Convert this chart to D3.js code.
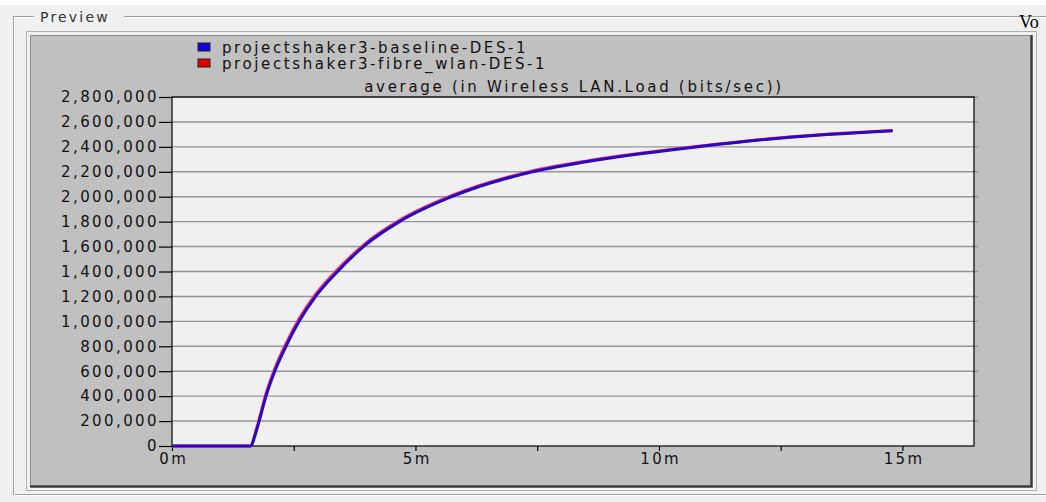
<!DOCTYPE html>
<html>
<head>
<meta charset="utf-8">
<script src="https://cdn.jsdelivr.net/npm/d3@7"></script>
<style>
  body { margin: 0; background: #f0f0f0; }
  svg { display: block; }
</style>
</head>
<body>
<svg id="chart" width="1046" height="502"></svg>
<script>
// series names for legend
const seriesNames = ["projectshaker3-baseline-DES-1", "projectshaker3-fibre_wlan-DES-1"];
const seriesColors = ["#1400e0", "#e00000"];
const chartTitle = "average (in Wireless LAN.Load (bits/sec))";

// time in minutes, load in bits/sec
const timeMin = [0, 1.62, 1.70, 1.79, 1.93, 2.11, 2.34, 2.61, 2.95, 3.40, 3.93, 4.67, 5.74, 7.4, 8.5, 10.8, 12.48, 14.8];
const baseline = [0, 0, 80000, 200000, 400000, 600000, 800000, 1000000, 1200000, 1400000, 1600000, 1800000, 2000000, 2200000, 2280000, 2400000, 2470000, 2529000];
const fibreWlan = [0, 0, 90000, 215000, 420000, 620000, 820000, 1020000, 1218000, 1415000, 1612000, 1810000, 2008000, 2206000, 2285000, 2404000, 2473000, 2531000];

const yTicks = d3.range(0, 2800001, 200000);
const xTicks = d3.range(0, 15.01, 2.5);
const xLabels = [0, 5, 10, 15];

const FONT = "'DejaVu Sans', Verdana, sans-serif";
const svg = d3.select("#chart");
const W = 1046, H = 502;

// window background
svg.append("rect").attr("width", W).attr("height", H).attr("fill", "#f0f0f0");
svg.append("rect").attr("width", W).attr("height", 5).attr("fill", "#ffffff");

// group box (etched)
const gb = svg.append("g");
gb.append("rect").attr("x", 13.5).attr("y", 16.5).attr("width", 1040).attr("height", 478)
  .attr("fill", "none").attr("stroke", "#a0a0a0");
gb.append("rect").attr("x", 14.5).attr("y", 17.5).attr("width", 1040).attr("height", 478)
  .attr("fill", "none").attr("stroke", "#ffffff");
gb.append("rect").attr("x", 34).attr("y", 8).attr("width", 90).attr("height", 18).attr("fill", "#f0f0f0");
gb.append("text").attr("x", 40).attr("y", 22).style("font-family", FONT).attr("font-size", 14).attr("fill", "#333")
  .attr("letter-spacing", 2.2).text("Preview");
svg.append("text").attr("x", 1019).attr("y", 28)
  .style("font-family", "'Liberation Serif', 'DejaVu Serif', serif").attr("font-size", 18)
  .attr("fill", "#000").text("Vo");

// inner panel
svg.append("rect").attr("x", 26.5).attr("y", 31.5).attr("width", 1010).attr("height", 459)
  .attr("fill", "none").attr("stroke", "#b0b0b0");
svg.append("rect").attr("x", 30).attr("y", 35).attr("width", 1001).attr("height", 452).attr("fill", "#c0c0c0");
svg.append("path").attr("d", "M30.5,486 V35.5 H1030").attr("fill", "none").attr("stroke", "#8a8a8a");
svg.append("path").attr("d", "M30,486.5 H1031.5 V35").attr("fill", "none").attr("stroke", "#3c3c3c").attr("stroke-width", 2.5);

// plot area
const pL = 172, pR = 974, pT = 97, pB = 446;
const x = d3.scaleLinear().domain([0, 16.47]).range([pL, pR]);
const y = d3.scaleLinear().domain([0, 2800000]).range([pB, pT]);

svg.append("rect").attr("x", pL).attr("y", pT).attr("width", pR - pL).attr("height", pB - pT)
  .attr("fill", "#f0f0f0");

// gridlines
svg.append("g").selectAll("line").data(yTicks.slice(1)).join("line")
  .attr("x1", pL).attr("x2", pR + 4)
  .attr("y1", d => y(d)).attr("y2", d => y(d))
  .attr("stroke", "#959595").attr("stroke-width", 1.4);

svg.append("rect").attr("x", pL).attr("y", pT).attr("width", pR - pL).attr("height", pB - pT)
  .attr("fill", "none").attr("stroke", "#000").attr("stroke-width", 1.2);

// y axis
const yAxis = svg.append("g").attr("transform", `translate(${pL},0)`)
  .call(d3.axisLeft(y).tickValues(yTicks).tickFormat(d3.format(",")).tickSize(13).tickPadding(0));
yAxis.select(".domain").remove();
yAxis.selectAll(".tick line").attr("stroke", "#000").attr("stroke-width", 1.2);
yAxis.selectAll(".tick text").attr("font-size", 15).attr("fill", "#111")
  .attr("font-family", FONT).attr("letter-spacing", 2.4);

// x axis
const xAxis = svg.append("g").attr("transform", `translate(0,${pB})`)
  .call(d3.axisBottom(x).tickValues(xTicks).tickFormat(d => xLabels.includes(d) ? d + "m" : "").tickSize(5).tickPadding(2));
xAxis.select(".domain").remove();
xAxis.selectAll(".tick line").attr("stroke", "#000").attr("stroke-width", 1.2);
xAxis.selectAll(".tick text").attr("font-size", 15).attr("fill", "#111")
  .attr("font-family", FONT).attr("letter-spacing", 2.4)
  .attr("dx", 1.2);

// title
svg.append("text").attr("x", (pL + pR) / 2 + 1).attr("y", 92).attr("text-anchor", "middle")
  .style("font-family", FONT).attr("font-size", 15).attr("fill", "#111").attr("letter-spacing", 2.7).text(chartTitle);

// legend
const lg = svg.append("g").selectAll("g").data(seriesNames).join("g")
  .attr("transform", (d, i) => `translate(198,${43 + i * 16})`);
lg.append("rect").attr("width", 12).attr("height", 8).attr("fill", (d, i) => seriesColors[i])
  .attr("stroke", "#202020").attr("stroke-width", 1);
lg.append("text").attr("x", 24).attr("y", 10).style("font-family", FONT).attr("font-size", 15).attr("fill", "#111")
  .attr("letter-spacing", 2.6).text(d => d);

// lines
const line = d3.line().x(d => x(d[0])).y(d => y(d[1])).curve(d3.curveMonotoneX);
const redData = timeMin.map((t, i) => [t, fibreWlan[i]]);
const blueData = timeMin.map((t, i) => [t, baseline[i]]);
svg.append("path").datum(redData).attr("d", line).attr("fill", "none")
  .attr("stroke", "#ff3070").attr("stroke-width", 3);
svg.append("path").datum(blueData).attr("d", line).attr("fill", "none")
  .attr("stroke", "#2a08c0").attr("stroke-width", 3);
</script>
</body>
</html>
